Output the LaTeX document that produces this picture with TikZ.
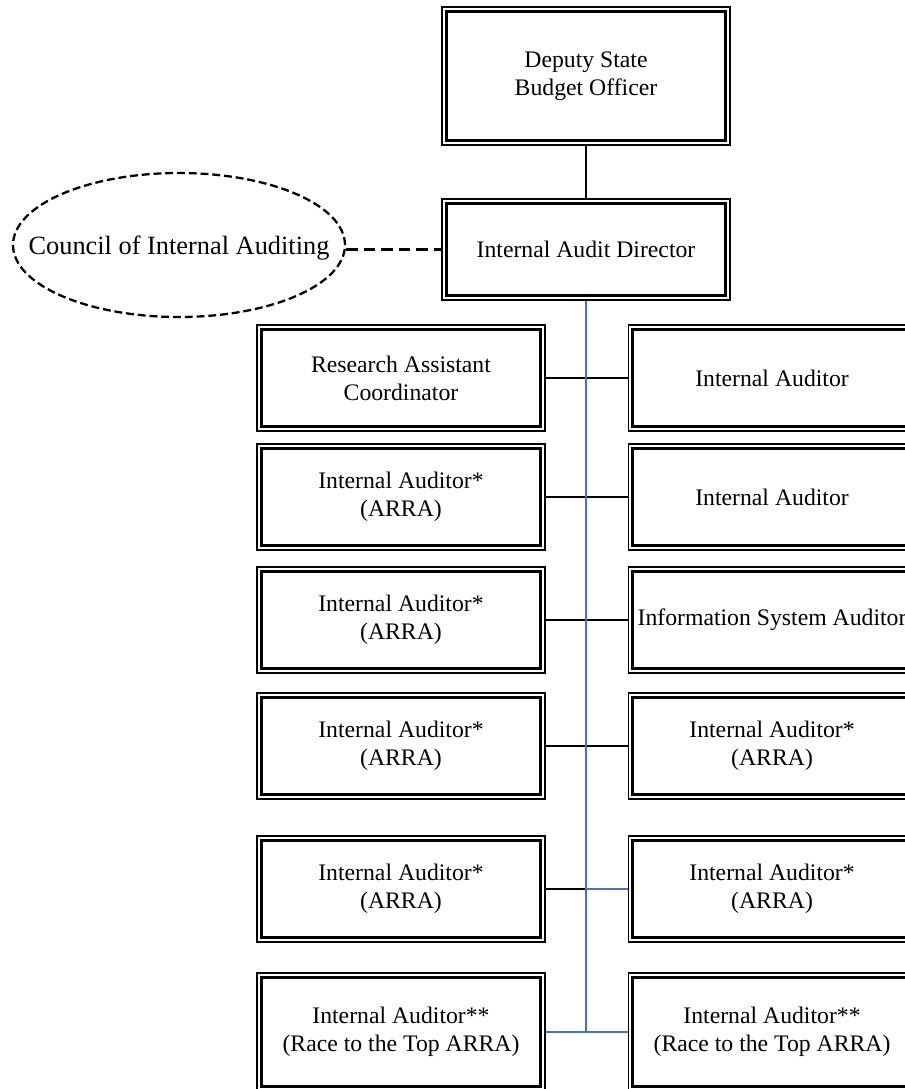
\documentclass[tikz,border=0pt]{standalone}
\usepackage{fontspec}
\setmainfont{Liberation Serif}
\usepackage{xcolor}
\usepackage{tikz}
\usetikzlibrary{shapes,positioning}
\definecolor{spineblue}{RGB}{68,114,196}
\tikzstyle{line} = [draw, line width=0.9pt]
\tikzstyle{spine} = [draw, spineblue, line width=1.1pt]
\tikzset{
    every node/.style={font=\fontsize{13.5}{16}\selectfont},
    every label/.style={font=\fontsize{15}{18}\selectfont},
    box/.style={draw, line width=0.6pt, minimum width=5.76cm, minimum height=2.12cm, align=center, inner sep=0pt},
    tallbox/.style={box, minimum height=2.36cm}
}

\begin{document}
\begin{tikzpicture}
    % Page frame
    \useasboundingbox (0,0) rectangle (18.1,-21.78);
    \clip (0,0) rectangle (18.1,-21.78);

    % Top of the chart
    \node[box, minimum height=2.76cm] (dsbo) at (11.72,-1.52) {Deputy State\\Budget Officer};
    \node[box, minimum height=2.02cm] (iad) at (11.72,-4.99) {Internal Audit Director};
    \node[ellipse, draw, line width=1.3pt, dash pattern=on 4.5pt off 2.2pt, minimum width=6.64cm, minimum height=2.88cm, inner sep=0pt, label={[yshift=-2pt]center:Council of Internal Auditing}] (cia) at (3.58,-4.9) {};

    % Staff boxes
    \node[box] (l1) at (8.02,-7.56) {Research Assistant\\Coordinator};
    \node[box, right=1.64cm of l1] (r1) {Internal Auditor};
    \node[box] (l2) at (8.02,-9.94) {Internal Auditor*\\(ARRA)};
    \node[box, right=1.64cm of l2] (r2) {Internal Auditor};
    \node[box] (l3) at (8.02,-12.4) {Internal Auditor*\\(ARRA)};
    \node[box, right=1.64cm of l3] (r3) {Information System Auditor};
    \node[box] (l4) at (8.02,-14.92) {Internal Auditor*\\(ARRA)};
    \node[box, right=1.64cm of l4] (r4) {Internal Auditor*\\(ARRA)};
    \node[box] (l5) at (8.02,-17.78) {Internal Auditor*\\(ARRA)};
    \node[box, right=1.64cm of l5] (r5) {Internal Auditor*\\(ARRA)};
    \node[tallbox] (l6) at (8.02,-20.64) {Internal Auditor**\\(Race to the Top ARRA)};
    \node[tallbox, right=1.64cm of l6] (r6) {Internal Auditor**\\(Race to the Top ARRA)};

    % Inner frame of the double borders
    \foreach \n in {dsbo,iad,l1,r1,l2,r2,l3,r3,l4,r4,l5,r5,l6,r6}
        \draw[line width=1.3pt] ([shift={(0.1,-0.1)}]\n.north west) rectangle ([shift={(-0.1,0.1)}]\n.south east);

    % Connectors
    \draw[line] (dsbo) -- (iad);
    \draw[line, line width=1.2pt, dash pattern=on 6.5pt off 3.5pt] (iad.west -| cia.east) -- (iad.west);
    \foreach \i in {1,...,4}
        \draw[line] (l\i) -- (r\i);
    \draw[line] (l5) -- (l5 -| iad.south);
    \draw[spine] (l5 -| iad.south) -- (r5);
    \draw[spine] (l6) -- (r6);
    \draw[spine] (iad) -- (iad |- l6);
\end{tikzpicture}
\end{document}
